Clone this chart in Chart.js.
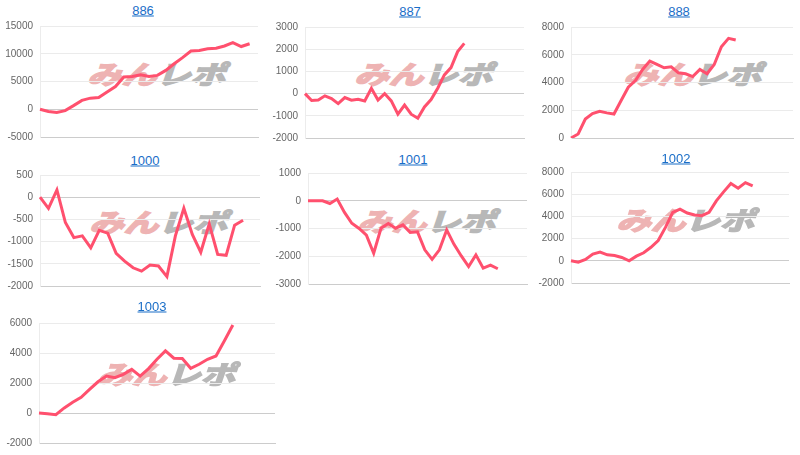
<!DOCTYPE html>
<html>
<head>
<meta charset="utf-8">
<script src="https://cdn.jsdelivr.net/npm/chart.js@4.4.0/dist/chart.umd.min.js"></script>
<style>
  html, body { margin: 0; padding: 0; background: #fff; }
  #board { position: relative; width: 800px; height: 455px; overflow: hidden; }
  .title {
    position: absolute; transform: translate(-50%, -50%);
    font-family: "Liberation Sans", Arial, sans-serif; font-size: 13px;
    color: #1a6ec8; text-decoration: underline; white-space: nowrap;
  }
  .mark {
    position: absolute; transform: translate(-50%, -50%) scale(1.15, 0.85) skewX(-14deg);
    font-family: "Noto Sans CJK JP", sans-serif; font-weight: 700;
    font-size: 30px; letter-spacing: 0; white-space: nowrap; line-height: 1;
    pointer-events: none;
  }
  .mark .a { color: #eeb3b3; -webkit-text-stroke: 2px #eeb3b3; }
  .mark .b { color: #b8b8b8; -webkit-text-stroke: 2px #b8b8b8; }
  canvas { position: absolute; }
</style>
</head>
<body>
<div id="board"></div>
<script>
// machine numbers shown as titles
const machines = ['886', '887', '888', '1000', '1001', '1002', '1003'];

// number of slots on each x axis (data stops before the end)
const slotCounts = [27, 34, 32, 27, 31, 31, 29];

// y axis ranges
const yMins  = [-5000, -2000, 0, -2000, -3000, -2000, -2000];
const yMaxs  = [15000, 3000, 8000, 500, 1000, 8000, 6000];
const ySteps = [5000, 1000, 2000, 500, 1000, 2000, 2000];

// series values
const data886 = [0, -400, -600, -250, 650, 1600, 2000, 2100, 3100, 4100, 5800, 5900, 6200, 5900, 6100,
  7000, 8200, 9300, 10500, 10600, 10900, 11000, 11400, 12000, 11300, 11800];
const data887 = [0, -310, -290, -100, -220, -450, -180, -300, -260, -330, 240, -290, 0, -330, -930,
  -520, -930, -1110, -600, -270, 240, 840, 1170, 1890, 2260];
const data888 = [0, 290, 1370, 1760, 1930, 1810, 1730, 2700, 3660, 4140, 4940, 5540, 5300, 5060, 5130,
  4700, 4630, 4430, 4940, 4630, 5300, 6580, 7180, 7060];
const data1000 = [0, -250, 165, -570, -910, -870, -1140, -745, -810, -1265, -1440, -1590, -1665, -1530,
  -1550, -1790, -870, -250, -840, -1240, -600, -1290, -1310, -630, -520];
const data1001 = [0, 0, 0, -100, 60, -420, -810, -1000, -1240, -1890, -990, -820, -990, -870, -1140,
  -1120, -1770, -2110, -1770, -1050, -1570, -1990, -2370, -1950, -2430, -2320, -2450];
const data1002 = [0, -120, 120, 600, 780, 540, 480, 300, 0, 420, 720, 1220, 1820, 3010, 4360, 4660,
  4300, 4120, 4060, 4360, 5400, 6210, 6960, 6540, 7040, 6750];
const data1003 = [0, -45, -110, 340, 720, 1050, 1570, 2080, 2460, 2350, 2580, 2910, 2460, 2960, 3580,
  4140, 3650, 3630, 2980, 3250, 3580, 3800, 4810, 5870];

const seriesList = [data886, data887, data888, data1000, data1001, data1002, data1003];

// plot areas [left, top, right, bottom], title centres, watermark centres
const plotBoxes = [
  [40, 25, 258, 136], [305, 26, 524, 137], [571, 26, 793, 137],
  [40, 174, 260, 285], [308, 172, 527, 283], [571, 171, 789, 282],
  [39, 322, 275, 442]
];
const titlePos = [[143, 10], [410, 11], [679, 11], [145, 160], [413, 159], [676, 158], [152, 306]];
const markPos = [[160, 73], [427, 73], [696, 73], [162, 221], [430, 220], [689, 219], [170, 373]];

Chart.defaults.font.family = '"Liberation Sans", Arial, sans-serif';
Chart.defaults.font.size = 10;

const board = document.getElementById('board');
const AXIS_W = 40;
const PAD_TOP = 12;
const PAD_BOTTOM = 14;

machines.forEach(function(name, i) {
  const box = plotBoxes[i];

  const title = document.createElement('a');
  title.className = 'title';
  title.href = '#';
  title.textContent = name;
  title.style.left = titlePos[i][0] + 'px';
  title.style.top = titlePos[i][1] + 'px';
  board.appendChild(title);

  const mark = document.createElement('div');
  mark.className = 'mark';
  mark.innerHTML = '<span class="a">みん</span><span class="b">レポ</span>';
  mark.style.left = markPos[i][0] + 'px';
  mark.style.top = markPos[i][1] + 'px';
  board.appendChild(mark);

  const canvas = document.createElement('canvas');
  const left = box[0] - AXIS_W;
  const w = box[2] - left + 1;
  const h = box[3] - box[1] + PAD_TOP + PAD_BOTTOM;
  canvas.width = w;
  canvas.height = h;
  canvas.style.left = left + 'px';
  canvas.style.top = (box[1] - PAD_TOP) + 'px';
  canvas.style.width = w + 'px';
  canvas.style.height = h + 'px';
  board.appendChild(canvas);

  const labels = [];
  for (let k = 0; k < slotCounts[i]; k++) labels.push(String(k + 1));

  new Chart(canvas, {
    type: 'line',
    data: {
      labels: labels,
      datasets: [{
        data: seriesList[i],
        borderColor: 'rgb(255, 80, 110)',
        borderWidth: 3,
        pointRadius: 0,
        tension: 0,
        fill: false
      }]
    },
    options: {
      responsive: false,
      animation: false,
      layout: { padding: { top: 0, right: 1, bottom: 0, left: 0 } },
      plugins: {
        legend: { display: false },
        tooltip: { enabled: false }
      },
      scales: {
        x: {
          grid: { display: false },
          border: { display: true, color: '#cccccc', width: 1 },
          ticks: { display: false }
        },
        y: {
          min: yMins[i],
          max: yMaxs[i],
          afterFit: function(scale) { scale.width = AXIS_W; },
          ticks: {
            stepSize: ySteps[i], color: '#666', padding: 7,
            callback: function(v) { return String(v); }
          },
          grid: {
            drawTicks: false,
            color: function(ctx) { return ctx.tick && ctx.tick.value === 0 ? '#cccccc' : '#ebebeb'; }
          },
          border: { display: true, color: '#ececec' }
        }
      }
    }
  });
});
</script>
</body>
</html>
